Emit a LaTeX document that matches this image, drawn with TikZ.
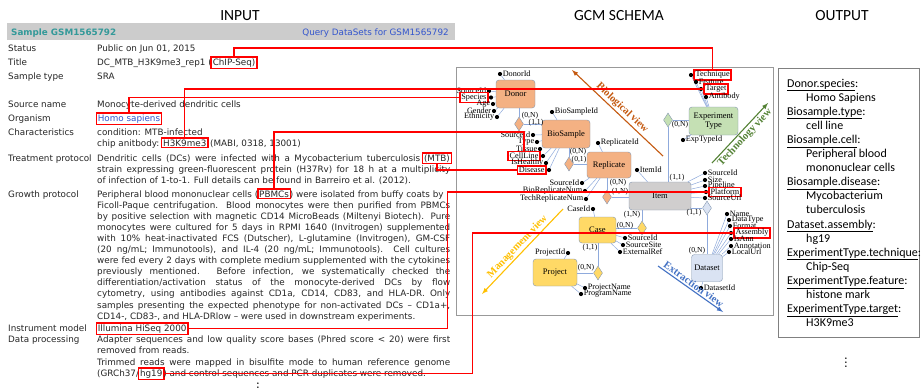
\documentclass[tikz,border=0pt]{standalone}
\usepackage{fontspec}
\usetikzlibrary{positioning,shapes.geometric}

\newfontfamily\geofont{DejaVu Sans}
\newfontfamily\erfont{Liberation Serif}
\newfontfamily\outfont{Carlito}

\definecolor{geoteal}{RGB}{51,153,153}
\definecolor{geolink}{RGB}{51,85,204}
\definecolor{geobar}{RGB}{204,204,204}
\definecolor{entline}{RGB}{132,151,176}
\definecolor{lnk}{RGB}{143,170,220}
\definecolor{bioent}{RGB}{244,177,131}
\definecolor{itement}{RGB}{208,206,206}
\definecolor{techent}{RGB}{197,224,180}
\definecolor{mgmtent}{RGB}{255,217,102}
\definecolor{extent}{RGB}{218,227,243}
\definecolor{bioview}{RGB}{197,90,17}
\definecolor{techview}{RGB}{84,130,53}
\definecolor{mgmtview}{RGB}{255,192,0}
\definecolor{extview}{RGB}{68,114,196}

% one justified line of the GEO record
\newcommand\fullline[1]{\makebox[353pt][s]{#1}}

\tikzset{
  head/.style={anchor=base, inner sep=0pt, font=\outfont\fontsize{15.5}{18}\selectfont},
  fld/.style={anchor=base west, inner sep=0pt, text=black!85,
    font=\geofont\fontsize{8.8}{10.5}\selectfont},
  hl/.style={draw=red, line width=1.6pt, inner sep=1.5pt, fill=white},
  wire/.style={draw=red, line width=1.4pt},
  ent/.style={draw=entline, rounded corners=3pt, align=center, inner sep=0pt,
    font=\erfont\fontsize{8.5}{9.5}\selectfont},
  rel/.style={diamond, draw=entline, minimum width=9pt, minimum height=14pt, inner sep=0pt},
  dot/.style={circle, fill=black, inner sep=0pt, minimum size=4.2pt, label distance=0.3pt},
  att/.style={inner sep=0.3pt, font=\erfont\fontsize{8.2}{9}\selectfont},
  card/.style={inner sep=0pt, font=\erfont\fontsize{7.6}{8.5}\selectfont},
  link/.style={draw=lnk, line width=0.5pt},
  view/.style={-latex, line width=1.1pt},
  vlab/.style={inner sep=1.5pt, font=\erfont\bfseries\fontsize{10.5}{12}\selectfont},
  res/.style={anchor=base west, inner sep=0pt, font=\outfont\fontsize{12}{14}\selectfont},
}

\begin{document}
\begin{tikzpicture}[x=1pt,y=-1pt]
	\useasboundingbox[fill=white] (0,0) rectangle (921,389);

	\node[head] (inp) at (240,20) {INPUT};
	\node[head] (gcm) at (619,20) {GCM SCHEMA};
	\node[head] (outp) at (842,20) {OUTPUT};

	% GEO sample record
	\fill[geobar] (7,22.5) rectangle (455,39.5);
	\node[fld, text=geoteal, font=\geofont\bfseries\fontsize{8.8}{10.5}\selectfont] (sample) at (11,35) {Sample GSM1565792};
	\node[fld, anchor=base east, text=geolink] (query) at (449,35) {Query DataSets for GSM1565792};

	\node[fld] (k1) at (8,51) {Status};
	\node[fld] (k2) at (8,65) {Title};
	\node[fld] (k3) at (8,79) {Sample type};
	\node[fld] (k4) at (8,107) {Source name};
	\node[fld] (k5) at (8,121) {Organism};
	\node[fld] (k6) at (8,135) {Characteristics};
	\node[fld] (k7) at (8,161) {Treatment protocol};
	\node[fld] (k8) at (8,197) {Growth protocol};
	\node[fld] (k9) at (8,331) {Instrument model};
	\node[fld] (k10) at (8,342) {Data processing};

	\node[fld] (v1) at (97,51) {Public on Jun 01, 2015};
	\node[fld] (v2) at (97,65) {DC\_MTB\_H3K9me3\_rep1 (};
	\node[fld,hl,base right=-1.5pt of v2] (chip) {ChIP-Seq)};
	\node[fld] (v3) at (97,79) {SRA};
	\node[fld] (v4) at (97,107) {Monocyte-derived dendritic cells};
	\node[fld,hl,text=geolink] (homo) at (95.5,121) {Homo sapiens};
	\node[fld] (v6) at (97,135) {condition: MTB-infected};
	\node[fld] (v7) at (97,146) {chip anitbody:};
	\node[fld,hl,base right=1.3pt of v7] (h3k) {H3K9me3};
	\node[fld,base right=1.3pt of h3k] (v7b) {(MABI, 0318, 13001)};

	\node[fld] (t1) at (97,161) {\makebox[323pt][s]{Dendritic cells (DCs) were infected with a Mycobacterium tuberculosis}};
	\node[fld,hl,base right=1.3pt of t1] (mtb) {(MTB)};
	\node[fld] (t2) at (97,172) {\fullline{strain expressing green-fluorescent protein (H37Rv) for 18 h at a multiplicity}};
	\node[fld] (t3) at (97,183) {of infection of 1-to-1. Full details can be found in Barreiro et al. (2012).};

	\node[fld] (g1) at (97,197) {Peripheral blood mononuclear cells (};
	\node[fld,hl,base right=-1.5pt of g1] (pbmc) {PBMCs};
	\node[fld,base right=-1.5pt of pbmc] (g1b) {) were isolated from buffy coats by};
	\node[fld] (g2) at (97,208.1) {\fullline{Ficoll-Paque centrifugation. Blood monocytes were then purified from PBMCs}};
	\node[fld] (g3) at (97,219.2) {\fullline{by positive selection with magnetic CD14 MicroBeads (Miltenyi Biotech). Pure}};
	\node[fld] (g4) at (97,230.3) {\fullline{monocytes were cultured for 5 days in RPMI 1640 (Invitrogen) supplemented}};
	\node[fld] (g5) at (97,241.4) {\fullline{with 10\% heat-inactivated FCS (Dutscher), L-glutamine (Invitrogen), GM-CSF}};
	\node[fld] (g6) at (97,252.5) {\fullline{(20 ng/mL; Immunotools), and IL-4 (20 ng/mL; Immunotools). Cell cultures}};
	\node[fld] (g7) at (97,263.6) {\fullline{were fed every 2 days with complete medium supplemented with the cytokines}};
	\node[fld] (g8) at (97,274.7) {\fullline{previously mentioned. Before infection, we systematically checked the}};
	\node[fld] (g9) at (97,285.8) {\fullline{differentiation/activation status of the monocyte-derived DCs by flow}};
	\node[fld] (g10) at (97,296.9) {\fullline{cytometry, using antibodies against CD1a, CD14, CD83, and HLA-DR. Only}};
	\node[fld] (g11) at (97,308) {\fullline{samples presenting the expected phenotype for non-activated DCs – CD1a+,}};
	\node[fld] (g12) at (97,319.1) {CD14-, CD83-, and HLA-DRlow – were used in downstream experiments.};

	\node[fld,hl] (illumina) at (95.5,331) {Illumina HiSeq 2000};
	\node[fld] (d1) at (97,342) {\fullline{Adapter sequences and low quality score bases (Phred score < 20) were first}};
	\node[fld] (d2) at (97,353) {removed from reads.};
	\node[fld] (d3) at (97,365) {\fullline{Trimmed reads were mapped in bisulfite mode to human reference genome}};
	\node[fld] (d4) at (97,376) {(GRCh37/};
	\node[fld,hl,base right=-1.5pt of d4] (hg) {hg19};
	\node[fld,base right=-1.5pt of hg] (d4b) {) and control sequences and PCR duplicates were removed.};
	\node[font=\bfseries, inner sep=0pt, anchor=north] (more1) at (258,377) {$\vdots$};

	% GCM schema
	\draw[black!40] (456,67) rectangle (773,315);

	\node[ent,fill=bioent,minimum width=39pt,minimum height=28pt] (donor) at (515.5,94) {Donor};
	\node[ent,fill=bioent,minimum width=48pt,minimum height=28pt] (biosample) at (566,134) {BioSample};
	\node[ent,fill=bioent,minimum width=44pt,minimum height=26pt] (replicate) at (609,165) {Replicate};
	\node[ent,fill=itement,minimum width=62pt,minimum height=28pt] (item) at (660,196) {Item};
	\node[ent,fill=techent,minimum width=49pt,minimum height=28pt] (exptype) at (713.5,121) {Experiment\\Type};
	\node[ent,fill=mgmtent,minimum width=37pt,minimum height=26pt] (case) at (597.5,230) {Case};
	\node[ent,fill=mgmtent,minimum width=44pt,minimum height=27pt] (project) at (555,272.5) {Project};
	\node[ent,fill=extent,minimum width=31pt,minimum height=27pt] (dataset) at (707,268) {Dataset};

	\node[rel,fill=bioent] (r1) at (519,124) {};
	\node[rel,fill=bioent] (r2) at (569,164) {};
	\node[rel,fill=bioent] (r3) at (607,197) {};
	\node[rel,fill=techent] (r4) at (668,120) {};
	\node[rel,fill=extent] (r5) at (707,208) {};
	\node[rel,fill=mgmtent] (r6) at (642,228) {};
	\node[rel,fill=mgmtent] (r7) at (598,273) {};

	\draw[link] (r1) -- (r1 |- donor.south) (r1) -- (r1 -| biosample.west);
	\draw[link] (r2) -- (r2 |- biosample.south) (r2) -- (r2 -| replicate.west);
	\draw[link] (r3) -- (r3 |- replicate.south) (r3) -- (r3 -| item.west);
	\draw[link] (r4) -- (r4 -| exptype.west) (r4) -- (r4 |- item.north);
	\draw[link] (r5) -- (r5 -| item.east) (r5) -- (r5 |- dataset.north);
	\draw[link] (r6) -- (r6 |- item.south) (r6) -- (r6 -| case.east);
	\draw[link] (r7) -- (r7 |- case.south) (r7) -- (r7 -| project.east);

	\node[card] (c1) at (530,116) {(0,N)};
	\node[card] (c2) at (536,123) {(1,1)};
	\node[card] (c3) at (578,152) {(0,N)};
	\node[card] (c4) at (579,160) {(0,1)};
	\node[card] (c5) at (618,183) {(0,N)};
	\node[card] (c6) at (620,192) {(1,N)};
	\node[card] (c7) at (680,125) {(0,N)};
	\node[card] (c8) at (677,178) {(1,1)};
	\node[card] (c9) at (694,213) {(1,1)};
	\node[card] (c10) at (697,251) {(0,N)};
	\node[card] (c11) at (632,215) {(1,N)};
	\node[card] (c12) at (625,226) {(0,N)};
	\node[card] (c13) at (590,248) {(1,1)};
	\node[card] (c14) at (586,268) {(0,N)};

	% attributes
	\node[dot,label={[att]right:DonorId}] (a1) at (500,74) {} edge[link] (donor);
	\node[dot,label={[att]left:SourceId}] (a2) at (489,91) {} edge[link] (donor);
	\node[dot,label={[att,hl,name=species]left:Species}] (a3) at (491,97.5) {} edge[link] (donor);
	\node[dot,label={[att]left:Age}] (a4) at (493,104) {} edge[link] (donor);
	\node[dot,label={[att]left:Gender}] (a5) at (494,111) {} edge[link] (donor);
	\node[dot,label={[att]left:Ethnicity}] (a6) at (497,117) {} edge[link] (donor);

	\node[dot,label={[att]right:BioSampleId}] (b1) at (552,112) {} edge[link] (biosample);
	\node[dot,label={[att]left:SourceId}] (b2) at (533,135) {} edge[link] (biosample);
	\node[dot,label={[att]left:Type}] (b3) at (537,142) {} edge[link] (biosample);
	\node[dot,label={[att]left:Tissue}] (b4) at (540,149) {} edge[link] (biosample);
	\node[dot,label={[att,hl,name=cellline]left:CellLine}] (b5) at (543,156) {} edge[link] (biosample);
	\node[dot,label={[att]left:IsHealthy}] (b6) at (546,163) {} edge[link] (biosample);
	\node[dot,label={[att,hl,name=disease]left:Disease}] (b7) at (549,170) {} edge[link] (biosample);

	\node[dot,label={[att]right:ReplicateId}] (p1) at (598,143) {} edge[link] (replicate);
	\node[dot,label={[att]left:SourceId}] (p2) at (582,183) {} edge[link] (replicate);
	\node[dot,label={[att]left:BioReplicateNum}] (p3) at (585,191) {} edge[link] (replicate);
	\node[dot,label={[att]left:TechReplicateNum}] (p4) at (586,199) {} edge[link] (replicate);

	\node[dot,label={[att]right:ItemId}] (i1) at (637,170) {} edge[link] (item);
	\node[dot,label={[att]right:SourceId}] (i2) at (705,173) {} edge[link] (item);
	\node[dot,label={[att]right:Size}] (i3) at (705,180) {} edge[link] (item);
	\node[dot,label={[att]right:Pipeline}] (i4) at (705,186) {} edge[link] (item);
	\node[dot,label={[att,hl,name=platform]right:Platform}] (i5) at (706,192) {} edge[link] (item);
	\node[dot,label={[att]right:SourceUrl}] (i6) at (705,198) {} edge[link] (item);

	\node[dot,label={[att,hl,name=technique]right:Technique}] (e1) at (691,75) {} edge[link] (exptype);
	\node[dot,label={[att]right:Feature}] (e2) at (696,82) {} edge[link] (exptype);
	\node[dot,label={[att,hl,name=target]right:Target}] (e3) at (701,89) {} edge[link] (exptype);
	\node[dot,label={[att]right:Antibody}] (e4) at (706,97) {} edge[link] (exptype);
	\node[dot,label={[att]right:ExpTypeId}] (e5) at (683,140) {} edge[link] (exptype);

	\node[dot,label={[att]left:CaseId}] (s1) at (593,209) {} edge[link] (case);
	\node[dot,label={[att]right:SourceId}] (s2) at (625,238) {} edge[link] (case);
	\node[dot,label={[att]right:SourceSite}] (s3) at (623,245) {} edge[link] (case);
	\node[dot,label={[att]right:ExternalRef}] (s4) at (620,252) {} edge[link] (case);

	\node[dot,label={[att]left:ProjectId}] (j1) at (568,253) {} edge[link] (project);
	\node[dot,label={[att]right:ProjectName}] (j2) at (585,288) {} edge[link] (project);
	\node[dot,label={[att]right:ProgramName}] (j3) at (581,294) {} edge[link] (project);

	\node[dot,label={[att]right:Name}] (x1) at (727,214) {} edge[link] (dataset);
	\node[dot,label={[att]right:DataType}] (x2) at (729,220) {} edge[link] (dataset);
	\node[dot,label={[att]right:Format}] (x3) at (730,226) {} edge[link] (dataset);
	\node[dot,label={[att,hl,name=assembly]right:Assembly}] (x4) at (731,233) {} edge[link] (dataset);
	\node[dot,label={[att]right:IsAnn}] (x5) at (731,239) {} edge[link] (dataset);
	\node[dot,label={[att]right:Annotation}] (x6) at (731,246) {} edge[link] (dataset);
	\node[dot,label={[att]right:LocalUrl}] (x7) at (729,252) {} edge[link] (dataset);
	\node[dot,label={[att]right:DatasetId}] (x8) at (701,288) {} edge[link] (dataset);

	% views
	\coordinate (bioA) at (663,156);
	\coordinate (bioB) at (572,70);
	\coordinate (techA) at (712,163);
	\coordinate (techB) at (768,103);
	\coordinate (mgmtA) at (563,209);
	\coordinate (mgmtB) at (482,294);
	\coordinate (extA) at (658,266);
	\coordinate (extB) at (723,312);
	\draw[view,bioview] (bioA) -- node[vlab,sloped,above,text=bioview] {Biological view} (bioB);
	\draw[view,techview] (techA) -- node[vlab,sloped,below,text=techview] {Technology view} (techB);
	\draw[view,mgmtview] (mgmtA) -- node[vlab,sloped,above,text=mgmtview] {Management view} (mgmtB);
	\draw[view,extview] (extA) -- node[vlab,sloped,above,text=extview] {Extraction view} (extB);

	% extracted values
	\draw[black!50] (778,68) rectangle (919,337);
	\node[res] (o1) at (787,87) {\underline{Donor.species}:};
	\node[res] (o2) at (806,101.1) {Homo Sapiens};
	\node[res] (o3) at (787,115.2) {\underline{Biosample.type}:};
	\node[res] (o4) at (806,129.3) {cell line};
	\node[res] (o5) at (787,143.4) {\underline{Biosample.cell}:};
	\node[res] (o6) at (806,157.5) {Peripheral blood};
	\node[res] (o7) at (806,171.6) {mononuclear cells};
	\node[res] (o8) at (787,185.7) {\underline{Biosample.disease}:};
	\node[res] (o9) at (806,199.8) {Mycobacterium};
	\node[res] (o10) at (806,213.9) {tuberculosis};
	\node[res] (o11) at (787,228) {\underline{Dataset.assembly}:};
	\node[res] (o12) at (806,242.1) {hg19};
	\node[res] (o13) at (787,256.2) {\underline{ExperimentType.technique}:};
	\node[res] (o14) at (806,270.3) {Chip-Seq};
	\node[res] (o15) at (787,284.4) {\underline{ExperimentType.feature}:};
	\node[res] (o16) at (806,298.5) {histone mark};
	\node[res] (o17) at (787,312.6) {\underline{ExperimentType.target}:};
	\node[res] (o18) at (806,326.7) {H3K9me3};
	\node[font=\bfseries, inner sep=0pt] (more2) at (846,360) {$\vdots$};

	% mappings from the record to the schema
	\draw[wire] (chip.north) -- ++(0,-8) -| (technique.north);
	\draw[wire] (homo.north) |- (species.west);
	\draw[wire] (h3k.north) |- (target.west);
	\draw[wire] (mtb.south) |- (disease.west);
	\draw[wire] (pbmc.north) -- ++(0,-56) -| (cellline.north);
	\draw[wire] (illumina.east) -- ++(259,0) |- (platform.west);
	\draw[wire] (hg.east) -- ++(308,0) |- (assembly.west);

\end{tikzpicture}
\end{document}
